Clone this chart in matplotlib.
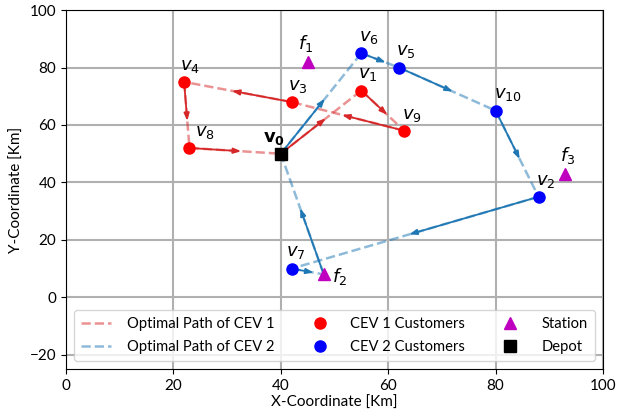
import matplotlib
matplotlib.use("Agg")
import matplotlib.pyplot as plt
import numpy as np

plt.rcParams['font.family'] = ['Lato', 'DejaVu Sans']
plt.rcParams['mathtext.fontset'] = 'dejavusans'

# node coordinates [km]
depot = (40, 50)
cev1_names = ['v1', 'v3', 'v4', 'v8', 'v9']
cev1_x = [55, 42, 22, 23, 63]
cev1_y = [72, 68, 75, 52, 58]
cev2_names = ['v2', 'v5', 'v6', 'v7', 'v10']
cev2_x = [88, 62, 55, 42, 80]
cev2_y = [35, 80, 85, 10, 65]
station_names = ['f1', 'f2', 'f3']
station_x = [45, 48, 93]
station_y = [82, 8, 43]

# optimal tours (node order)
route1 = ['v0', 'v1', 'v9', 'v3', 'v4', 'v8', 'v0']
route2 = ['v0', 'v6', 'v5', 'v10', 'v2', 'v7', 'f2', 'v0']

pos = {'v0': depot}
pos.update({n: (x, y) for n, x, y in zip(cev1_names, cev1_x, cev1_y)})
pos.update({n: (x, y) for n, x, y in zip(cev2_names, cev2_x, cev2_y)})
pos.update({n: (x, y) for n, x, y in zip(station_names, station_x, station_y)})

red = '#d62728'
blue = '#1f77b4'

fig = plt.figure(figsize=(6.19, 4.2), dpi=100)
ax = fig.add_axes([0.1066, 0.121, 0.8675, 0.855])
ax.set_xlim(0, 100)
ax.set_ylim(-25, 100)

HEAD_PX = 6.0  # arrow head sits just past the midpoint of each leg


def draw_route(route, color, label):
    for k in range(len(route) - 1):
        (x0, y0), (x1, y1) = pos[route[k]], pos[route[k + 1]]
        ax.plot([x0, x1], [y0, y1], '--', color=color, alpha=0.5, lw=1.8,
                label=label if k == 0 else None, zorder=2)
        p0 = ax.transData.transform((x0, y0))
        p1 = ax.transData.transform((x1, y1))
        d = p1 - p0
        tip = (p0 + p1) / 2 + HEAD_PX * d / np.hypot(*d)
        xt, yt = ax.transData.inverted().transform(tip)
        ax.annotate('', xy=(xt, yt), xytext=(x0, y0),
                    arrowprops=dict(arrowstyle='-|>,head_length=0.55,head_width=0.2',
                                    color=color, lw=1.3, mutation_scale=8,
                                    shrinkA=0, shrinkB=0),
                    zorder=3)


draw_route(route1, red, 'Optimal Path of CEV 1')
draw_route(route2, blue, 'Optimal Path of CEV 2')

ax.plot(cev1_x, cev1_y, 'o', color='r', ms=8, ls='none', label='CEV 1 Customers', zorder=4)
ax.plot(cev2_x, cev2_y, 'o', color='b', ms=8, ls='none', label='CEV 2 Customers', zorder=4)
ax.plot(station_x, station_y, '^', color='m', ms=8, ls='none', label='Station', zorder=4)
ax.plot(*depot, 's', color='k', ms=8, ls='none', label='Depot', zorder=4)


def tex(name):
    return '$%s_{%s}$' % (name[0], name[1:])


# node labels
offsets = {
    'v1': (-0.7, 2.5), 'v3': (-0.6, 2.5), 'v4': (-0.8, 2.5), 'v8': (1.0, 2.5),
    'v9': (-0.5, 2.5), 'v2': (-0.5, 2.5), 'v5': (-0.5, 2.5), 'v6': (-0.5, 2.5),
    'v7': (-1.0, 2.5), 'v10': (-0.3, 2.5),
    'f1': (-1.8, 2.8), 'f2': (1.6, -4.5), 'f3': (-1.0, 2.8),
}
for name, (dx, dy) in offsets.items():
    x, y = pos[name]
    ax.text(x + dx, y + dy, tex(name), fontsize=13, ha='left', va='bottom', zorder=5)
ax.text(depot[0] - 3.3, depot[1] + 2.3, r'$\mathbf{v_0}$', fontsize=13,
        ha='left', va='bottom', zorder=5)

ax.set_xticks(range(0, 101, 20))
ax.set_yticks(range(-20, 101, 20))
ax.grid(True, color='#b0b0b0', lw=1.5)
ax.set_axisbelow(True)
ax.tick_params(labelsize=11)
ax.set_xlabel('X-Coordinate [Km]', fontsize=11, labelpad=2)
ax.set_ylabel('Y-Coordinate [Km]', fontsize=11, labelpad=4)

ax.legend(loc='lower left', bbox_to_anchor=(0.015, 0.022, 0.97, 0.2),
          mode='expand', ncol=3, fontsize=10.6, borderaxespad=0,
          labelspacing=0.6, handletextpad=1.1, borderpad=0.5)

fig.savefig('out.png', dpi=100)
